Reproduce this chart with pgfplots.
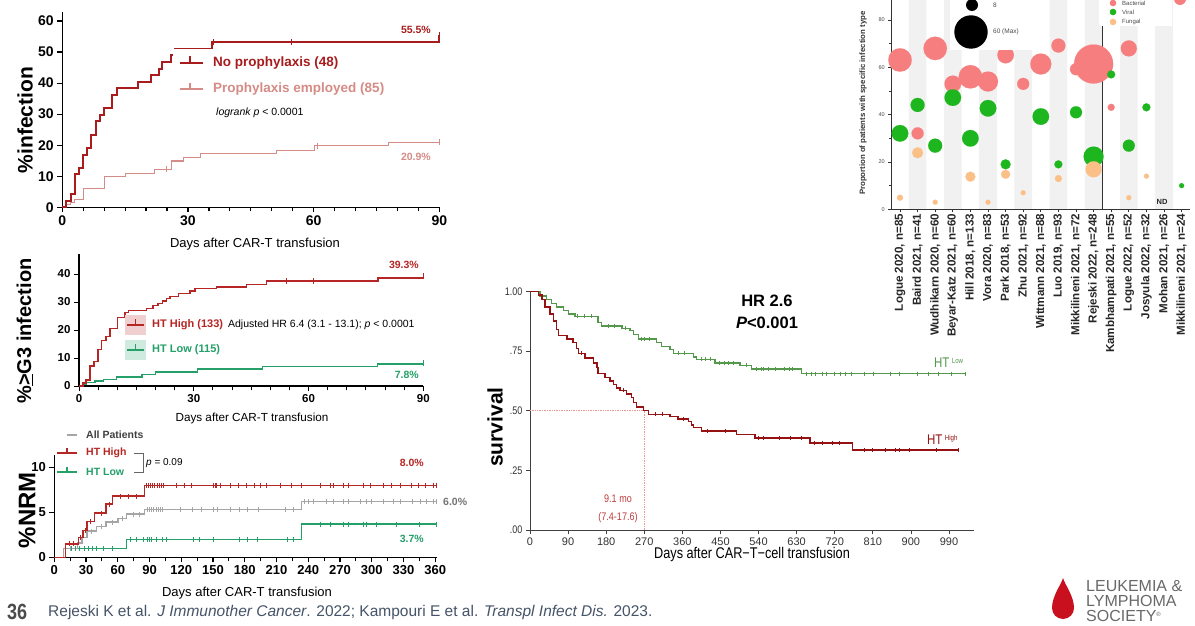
\documentclass[border=0pt]{standalone}
\usepackage{pgfplots}
\pgfplotsset{compat=1.18}
\usepackage{pgfplotstable}
\usepackage{fontspec}
\setmainfont{Liberation Sans}
\newfontfamily\condensed[FakeStretch=0.82]{Liberation Sans}
\definecolor{npred}{RGB}{168,28,30}
\definecolor{prpink}{RGB}{214,140,134}
\definecolor{hthigh}{RGB}{182,38,36}
\definecolor{htlow}{RGB}{36,160,104}
\definecolor{allgray}{RGB}{165,165,165}
\definecolor{svred}{RGB}{150,18,18}
\definecolor{svgreen}{RGB}{84,152,76}
\definecolor{medred}{RGB}{236,150,150}
\definecolor{medtxt}{RGB}{190,60,60}
\definecolor{bact}{RGB}{247,126,126}
\definecolor{viral}{RGB}{30,182,30}
\definecolor{fung}{RGB}{251,192,136}
\definecolor{band}{RGB}{241,241,241}
\definecolor{footer}{RGB}{70,84,104}
\definecolor{llsred}{RGB}{200,16,30}
\definecolor{llsgray}{RGB}{105,105,105}
\newcommand{\fs}[1]{\fontsize{#1}{#1}\selectfont}

% ---------- Panel 1: %infection ----------
\pgfplotstableread{
t s c
0 0 0
0.9 2.1 0
2.0 4.3 0
3.0 10.6 0
4.0 12.8 0
4.9 17.0 0
5.9 19.1 0
6.9 23.4 0
8.0 27.7 0
9.0 29.8 0
10.0 31.9 0
11.9 36.2 0
13.0 38.3 0
18.0 40.4 0
21.1 42.6 0
23.0 44.7 0
23.9 46.8 0
25.9 49.0 0
27.0 51.1 0
35.8 53.3 0
36.0 53.3 1
54.6 53.3 1
89.8 53.3 0
90 55.5 1
}\npdata
\pgfplotstableread{
t s c
0 0 0
1.0 0.8 0
2.0 1.5 0
3.0 2.4 0
5.0 6.1 0
10.0 9.9 0
15.0 11.0 0
22.0 12.2 0
24.9 12.2 1
26.0 14.9 0
28.9 16.1 0
32.9 17.2 0
51.2 18.3 0
60.3 19.8 0
61.0 19.8 1
77.8 20.8 0
89.8 20.8 0
90 20.9 1
}\prdata
% ---------- Panel 2: >=G3 infection ----------
\pgfplotstableread{
t s c
0 0 0
1.0 1.0 0
1.8 2.1 0
2.9 7.1 0
3.9 8.7 0
5.0 13.1 0
5.9 16.2 0
7.1 17.6 0
8.1 20.6 0
10.0 24.5 0
12.0 26.2 0
12.9 26.9 0
17.7 27.7 0
19.4 28.7 0
20.7 29.5 0
21.8 30.4 0
22.9 31.2 0
23.8 31.9 0
26.0 33.1 0
29.0 34.0 0
30.3 34.8 0
36.0 35.4 0
43.8 36.2 0
49.0 37.5 0
54.3 37.5 1
61.2 37.5 1
78.2 38.5 0
89.8 38.5 0
90 39.3 1
}\gthigh
\pgfplotstableread{
t s c
0 0 0
1.0 0.6 0
1.8 1.2 0
4.2 1.8 0
6.4 2.4 0
9.8 3.2 0
16.5 4.1 0
20.0 5.0 0
31.0 6.0 0
48.0 7.0 0
78.0 7.8 0
89.8 7.8 0
90 8.2 1
}\gtlow
% ---------- Panel 3: NRM ----------
\pgfplotstableread{
t s c
0 0 0
10.4 1.5 0
14 1.5 1
18 1.5 1
23 2.2 0
25 2.2 1
27 3.0 0
29 3.0 1
31 4.0 0
34 4.0 1
38 4.9 0
44 4.9 1
49 5.9 0
52 5.9 1
55 6.8 0
62 6.8 1
70 6.8 1
78 6.8 1
85 8.0 0
87 8.0 1
89 8.0 1
91 8.0 1
93 8.0 1
95 8.0 1
97 8.0 1
99 8.0 1
101 8.0 1
103 8.0 1
115.6 8.0 1
122.8 8.0 1
129.8 8.0 1
150.2 8.0 1
151.8 8.0 1
153.4 8.0 1
156.5 8.0 1
166 8.0 1
173.9 8.0 1
181.7 8.0 1
188.7 8.0 1
194.3 8.0 1
200.6 8.0 1
213.2 8.0 1
224.3 8.0 1
233.7 8.0 1
251 8.0 1
260.5 8.0 1
263.6 8.0 1
273 8.0 1
277.8 8.0 1
292 8.0 1
298.3 8.0 1
310.9 8.0 1
318.7 8.0 1
326.6 8.0 1
337.6 8.0 1
344 8.0 1
350.2 8.0 1
358.1 8.0 1
361 8.0 1
}\nrmhigh
\pgfplotstableread{
t s c
0 0 0
8.5 1.0 0
15 1.0 1
22 1.6 0
26 2.2 0
31 2.9 0
35 2.9 1
40 3.4 0
44 3.4 1
49 3.9 0
55 3.9 1
60 4.3 0
64 4.3 1
68 4.8 0
75 4.8 1
80 4.8 1
85 5.3 0
88 5.3 1
90 5.3 1
92 5.3 1
94 5.3 1
96 5.3 1
98 5.3 1
100 5.3 1
102 5.3 1
119 5.3 1
130 5.3 1
139 5.3 1
150 5.3 1
154 5.3 1
166 5.3 1
175 5.3 1
182 5.3 1
193 5.3 1
218 5.3 1
226 5.3 1
233.7 6.2 0
236 6.2 1
240 6.2 1
245 6.2 1
257 6.2 1
264 6.2 1
273 6.2 1
277.8 6.2 1
289 6.2 1
295 6.2 1
300 6.2 1
311 6.2 1
320 6.2 1
327 6.2 1
338 6.2 1
346 6.2 1
352 6.2 1
358 6.2 1
361 6.2 1
}\nrmall
\pgfplotstableread{
t s c
0 0 0
8.5 1.0 0
16 1.0 1
20 1.0 1
24 1.0 1
28 1.0 1
32 1.0 1
36 1.0 1
40 1.0 1
46 1.0 1
55 1.0 1
68.3 2.0 0
72 2.0 1
78 2.0 1
84 2.0 1
88 2.0 1
90 2.0 1
92 2.0 1
96 2.0 1
102 2.0 1
106 2.0 1
131 2.0 1
137 2.0 1
150 2.0 1
175 2.0 1
182 2.0 1
192 2.0 1
220 2.0 1
226 2.0 1
233.7 3.7 0
251 3.7 1
260.5 3.7 1
273 3.7 1
277.8 3.7 1
292 3.7 1
295 3.7 1
304 3.7 1
323 3.7 1
345 3.7 1
361 3.7 1
}\nrmlow
% ---------- Panel 4: survival ----------
\pgfplotstableread{
t s c
0 1.000 0
23.6 0.980 0
39.4 0.965 0
51 0.950 0
63 0.935 0
79 0.920 0
91 0.905 0
106 0.895 0
112 0.895 1
128 0.895 1
145 0.895 1
161 0.870 0
169 0.855 0
185 0.855 1
200 0.855 1
217 0.845 0
225 0.845 1
236 0.835 0
244 0.820 0
256 0.800 0
262 0.800 1
270 0.800 1
282 0.800 1
299 0.785 0
311 0.770 0
331 0.755 0
339 0.740 0
350 0.740 1
365 0.740 1
386 0.725 0
394 0.715 0
405 0.715 1
415 0.715 1
425 0.715 1
437 0.700 0
447 0.700 1
458 0.700 1
468 0.700 1
480 0.700 1
496 0.690 0
510 0.690 1
524 0.675 0
535 0.675 1
546 0.675 1
552 0.675 1
562 0.675 1
580 0.675 1
600 0.675 1
612 0.675 1
620 0.675 1
642 0.655 0
652 0.655 1
665 0.655 1
675 0.655 1
690 0.655 1
700 0.655 1
720 0.655 1
733 0.655 1
745 0.655 1
760 0.655 1
790 0.655 1
810 0.655 1
852 0.655 1
873 0.655 1
915 0.655 1
940 0.655 1
965 0.655 1
995 0.655 1
1028 0.655 1
}\svlow
\pgfplotstableread{
t s c
0 1.000 0
20 0.985 0
28 0.965 0
35 0.935 0
47 0.905 0
55 0.875 0
63 0.840 0
67 0.815 0
87 0.800 0
102 0.785 0
110 0.760 0
114 0.740 0
122 0.740 1
130 0.720 0
150 0.700 0
158 0.680 0
161 0.655 0
177 0.640 0
189 0.625 0
197 0.610 0
205 0.595 0
213 0.585 0
220 0.585 1
228 0.570 0
240 0.555 0
244 0.535 0
252 0.515 0
268 0.500 0
280 0.485 0
295 0.485 1
312 0.485 1
331 0.475 0
350 0.465 0
362 0.465 1
374 0.455 0
382 0.440 0
386 0.430 0
405 0.415 0
420 0.415 1
462 0.415 1
488 0.400 0
532 0.385 0
540 0.385 1
552 0.385 1
590 0.385 1
615 0.385 1
640 0.385 1
662 0.365 0
672 0.365 1
690 0.365 1
715 0.365 1
730 0.365 1
762 0.335 0
790 0.335 1
808 0.335 1
840 0.335 1
862 0.335 1
872 0.335 1
895 0.335 1
960 0.335 1
1012 0.335 1
}\svhigh
% ---------- Panel 5: bubbles ----------
\pgfplotstableread{
x y r
0 63.1 11.7
1 32.1 6
2 68 11.7
3 53 8.3
4 56 11.7
5 54 10
6 65.2 8.3
7 53 6
8 61.4 10.5
9 69.2 7
10 59.2 6
11 61.4 19.5
12 43.1 3.5
13 68 8
}\bactdata
\pgfplotstableread{
x y r
0 32.1 8.3
1 44.1 7
2 26.9 7
3 47.2 8.3
4 30 8.3
5 42.7 8.3
6 19 5
8 39.2 8.3
9 19 4
10 41 6
11 22.3 10
12 57 4
13 26.9 6
14 43.1 4
16 10 2.5
}\virdata
\pgfplotstableread{
x y r
0 4.9 3
1 23.9 5.5
2 3 2.5
4 13.8 5
5 3 2.5
6 14.8 4.5
7 7 2.5
9 13 3.5
11 16.9 8
13 4.9 2.5
14 14 2.5
}\fundata

\pgfplotsset{
  km/.style={scale only axis, anchor=south west, axis lines=left,
    axis line style={-, line width=1.3pt}, tick align=outside,
    tick style={black, line width=1.2pt}, major tick length=5pt, minor tick length=4pt,
    /pgf/number format/assume math mode=true, clip=false},
  kmline/.style={const plot, line width=#1, mark=none},
  cens/.style={only marks, mark=|, mark size=3pt, mark options={line width=0.9pt},
    restrict expr to domain={\thisrow{c}}{1:1}},
  bubble/.style={scatter, only marks, mark=*,
    scatter/use mapped color={draw=#1, fill=#1},
    mark options={line width=0.1pt},
    visualization depends on={\thisrow{r}\as\rr},
    scatter/@pre marker code/.append style={/tikz/mark size=\rr pt}},
}

\begin{document}
\begin{tikzpicture}
\path[use as bounding box] (0,0) rectangle (1195pt,625pt);
\clip (0,0) rectangle (1195pt,625pt);
\fill[white] (0,0) rectangle (1195pt,625pt);

% ===== Panel 1 =====
\begin{axis}[km, at={(62.3pt,417.7pt)}, width=377pt, height=195.6pt,
  xmin=0, xmax=90, ymin=0, ymax=63, xtick={0,30,60,90}, minor x tick num=5,
  ytick={0,10,...,60}, tick label style={font=\bfseries\fs{14}}]
\addplot[kmline=1.2pt, prpink] table[x=t,y=s]{\prdata};
\addplot[cens, prpink] table[x=t,y=s]{\prdata};
\addplot[kmline=2pt, npred] table[x=t,y=s]{\npdata};
\addplot[cens, npred] table[x=t,y=s]{\npdata};
\end{axis}
\node[rotate=90, font=\bfseries\fs{21}] at (25pt,505pt) {\%infection};
\node[font=\fs{13}] at (255pt,381pt) {Days after CAR-T transfusion};
\fill[white] (173pt,500pt) rectangle (392pt,576pt);
\draw[npred, line width=2pt] (180pt,562pt) -- (203pt,562pt) (190pt,562pt) -- (190pt,569pt);
\draw[prpink, line width=1.2pt] (180pt,536pt) -- (203pt,536pt) (190pt,536pt) -- (190pt,542pt);
\node[anchor=west, inner sep=0, text=npred, font=\bfseries\fs{13.5}] at (213pt,562pt) {No prophylaxis (48)};
\node[anchor=west, inner sep=0, text=prpink, font=\bfseries\fs{13.5}] at (213pt,536pt) {Prophylaxis employed (85)};
\node[anchor=west, inner sep=0, font=\fs{10.5}] at (216pt,512pt) {\textit{logrank p} < 0.0001};
\node[anchor=east, inner sep=0, text=npred, font=\bfseries\fs{10.5}] at (431pt,595pt) {55.5\%};
\node[anchor=east, inner sep=0, text=prpink, font=\bfseries\fs{10.5}] at (431pt,468pt) {20.9\%};

% ===== Panel 2 =====
\begin{axis}[km, at={(79pt,239pt)}, width=344.3pt, height=131.6pt,
  xmin=0, xmax=90, ymin=0, ymax=47, xtick={0,30,60,90}, minor x tick num=5,
  ytick={0,10,...,40}, tick label style={font=\bfseries\fs{11.5}},
  axis line style={-, line width=1.1pt}, tick style={black, line width=1pt}]
\addplot[kmline=1.5pt, htlow] table[x=t,y=s]{\gtlow};
\addplot[cens, htlow] table[x=t,y=s]{\gtlow};
\addplot[kmline=1.5pt, hthigh] table[x=t,y=s]{\gthigh};
\addplot[cens, hthigh] table[x=t,y=s]{\gthigh};
\end{axis}
\node[rotate=90, font=\bfseries\fs{20}] at (25pt,294pt) {\%\underline{>}G3 infection};
\node[font=\fs{11.7}] at (252pt,207pt) {Days after CAR-T transfusion};
\fill[hthigh!22] (125pt,290pt) rectangle (146pt,310pt);
\fill[htlow!22] (125pt,265pt) rectangle (146pt,285pt);
\draw[hthigh, line width=1.5pt] (127pt,300pt) -- (144pt,300pt) (135.5pt,300pt) -- (135.5pt,306pt);
\draw[htlow, line width=1.5pt] (127pt,275pt) -- (144pt,275pt) (135.5pt,275pt) -- (135.5pt,281pt);
\node[anchor=west, inner sep=0] at (152pt,300pt) {{\bfseries\fs{11}\color{hthigh}HT High (133)}\hspace{5pt}{\fs{10.5}Adjusted HR 6.4 (3.1 - 13.1); \textit{p} < 0.0001}};
\node[anchor=west, inner sep=0, text=htlow, font=\bfseries\fs{11}] at (152pt,275pt) {HT Low (115)};
\node[anchor=east, inner sep=0, text=hthigh, font=\bfseries\fs{10.5}] at (419pt,360pt) {39.3\%};
\node[anchor=east, inner sep=0, text=htlow, font=\bfseries\fs{10.5}] at (419pt,250pt) {7.8\%};

% ===== Panel 3 =====
\begin{axis}[km, at={(54.3pt,67.7pt)}, width=383.1pt, height=102.6pt,
  xmin=0, xmax=362, ymin=0, ymax=11.4, xtick={0,30,...,360}, minor x tick num=1,
  ytick={0,5,10}, tick label style={font=\bfseries\fs{13}},
  axis line style={-, line width=1.2pt}, tick style={black, line width=1.1pt},
  cens/.append style={mark size=2.5pt, mark options={line width=0.7pt}}]
\addplot[kmline=1.5pt, htlow] table[x=t,y=s]{\nrmlow};
\addplot[cens, htlow] table[x=t,y=s]{\nrmlow};
\addplot[kmline=1.5pt, allgray] table[x=t,y=s]{\nrmall};
\addplot[cens, allgray] table[x=t,y=s]{\nrmall};
\addplot[kmline=1.5pt, hthigh] table[x=t,y=s]{\nrmhigh};
\addplot[cens, hthigh] table[x=t,y=s]{\nrmhigh};
\end{axis}
\node[rotate=90, font=\bfseries\fs{24}] at (27pt,115pt) {\%NRM};
\node[font=\fs{13}] at (247pt,32pt) {Days after CAR-T transfusion};
\draw[allgray, line width=1.3pt] (67pt,190pt) -- (77pt,190pt);
\draw[hthigh, line width=1.5pt] (57pt,172pt) -- (77pt,172pt) (67pt,172pt) -- (67pt,177pt);
\draw[htlow, line width=1.5pt] (57pt,153pt) -- (77pt,153pt) (67pt,153pt) -- (67pt,158pt);
\node[anchor=west, inner sep=0, text=black!75, font=\bfseries\fs{10.5}] at (86pt,190pt) {All Patients};
\node[anchor=west, inner sep=0, text=hthigh, font=\bfseries\fs{10.5}] at (86pt,172pt) {HT High};
\node[anchor=west, inner sep=0, text=htlow, font=\bfseries\fs{10.5}] at (86pt,153pt) {HT Low};
\draw[black!60, line width=0.8pt] (134pt,172pt) -- (143pt,172pt) -- (143pt,153pt) -- (134pt,153pt);
\node[anchor=west, inner sep=0, font=\fs{10}] at (146pt,162pt) {\textit{p} = 0.09};
\node[anchor=east, inner sep=0, text=hthigh, font=\bfseries\fs{10.5}] at (424pt,162pt) {8.0\%};
\node[anchor=west, inner sep=0, text=black!55, font=\bfseries\fs{10.5}] at (443pt,123pt) {6.0\%};
\node[anchor=east, inner sep=0, text=htlow, font=\bfseries\fs{10.5}] at (424pt,86pt) {3.7\%};

% ===== Panel 4 =====
\begin{axis}[scale only axis, anchor=south west, at={(530pt,95pt)}, width=444.4pt, height=238.7pt,
  xmin=0, xmax=1050, ymin=0, ymax=1, axis lines=left,
  axis line style={-, line width=0.8pt, black!75}, tick align=outside,
  major tick length=4pt, tick style={black!75, line width=0.8pt},
  xtick={0,90,...,990}, ytick={0,0.25,0.5,0.75,1}, yticklabels={.00,.25,.50,.75,1.00},
  /pgf/number format/assume math mode=true,
  xticklabel style={font=\fs{11}, text=black!80},
  yticklabel style={font=\condensed\fs{11}, text=black!80}, clip=false,
  cens/.append style={mark size=2pt, mark options={line width=0.6pt}}]
\addplot[densely dotted, medred, line width=0.7pt] coordinates {(0,0.5) (270,0.5)};
\addplot[densely dotted, medred, line width=0.7pt] coordinates {(270,0) (270,0.5)};
\addplot[kmline=1.4pt, svgreen] table[x=t,y=s]{\svlow};
\addplot[cens, svgreen] table[x=t,y=s]{\svlow};
\addplot[kmline=1.4pt, svred] table[x=t,y=s]{\svhigh};
\addplot[cens, svred] table[x=t,y=s]{\svhigh};
\end{axis}
\node[rotate=90, font=\bfseries\fs{21}] at (495pt,198pt) {survival};
\node[font=\condensed\fs{15.5}] at (752pt,71pt) {Days after CAR−T−cell transfusion};
\node[font=\bfseries\fs{16.5}] at (767pt,324pt) {HR 2.6};
\node[font=\bfseries\fs{16.5}] at (767pt,302pt) {\textit{P}<0.001};
\node[anchor=west, inner sep=0, text=svgreen] at (934pt,262pt) {\condensed\fs{14}HT\,\raisebox{4.5pt}{\fs{7.5}Low}};
\node[anchor=west, inner sep=0, text=svred] at (927pt,185pt) {\condensed\fs{14}HT\,\raisebox{4.5pt}{\fs{7.5}High}};
\node[text=medtxt, font=\condensed\fs{11}] at (618pt,126pt) {9.1 mo};
\node[text=medtxt, font=\condensed\fs{11}] at (618pt,107pt) {(7.4-17.6)};

% ===== Panel 5 =====
\begin{axis}[scale only axis, anchor=south west, at={(891.2pt,415.7pt)}, width=299.2pt, height=224.8pt,
  xmin=-0.5, xmax=16.5, ymin=0, ymax=95, axis lines=left,
  axis line style={-, line width=0.9pt, black!80}, axis on top,
  tick align=outside, major tick length=3pt, minor tick length=2pt,
  tick style={black!80, line width=0.7pt},
  xtick={0,...,16},
  xticklabels={{Logue 2020, n=85},{Baird 2021, n=41},{Wudhikarn 2020, n=60},{Beyar-Katz 2021, n=60},{Hill 2018, n=133},{Vora 2020, n=83},{Park 2018, n=53},{Zhu 2021, n=92},{Wittmann 2021, n=88},{Luo 2019, n=93},{Mikkilineni 2021, n=72},{Rejeski 2022, n=248},{Kambhampati 2021, n=55},{Logue 2022, n=52},{Josyula 2022, n=32},{Mohan 2021, n=26},{Mikkilineni 2021, n=24}},
  xticklabel style={rotate=90, anchor=east, font=\bfseries\fs{11.6}, text=black!85, inner sep=1.5pt},
  ytick={0,20,...,80}, minor y tick num=1,
  yticklabel style={font=\fs{5.5}, text=black!70},
  /pgf/number format/assume math mode=true]
\addplot[ybar, bar width=1, fill=band, draw=none] coordinates {(1,100) (3,100) (5,100) (7,100) (9,100) (11,100) (13,100) (15,100)};
\addplot[black!80, line width=1pt] coordinates {(11.5,0) (11.5,100)};
\addplot[bubble=bact] table[x=x,y=y]{\bactdata};
\addplot[bubble=viral] table[x=x,y=y]{\virdata};
\addplot[bubble=fung] table[x=x,y=y]{\fundata};
\end{axis}
\node[rotate=90, anchor=west, inner sep=0, font=\bfseries\fs{7.8}, text=black!80] at (863pt,430pt) {Proportion of patients with specific infection type};
\node[font=\bfseries\fs{7.5}, text=black!85] at (1162pt,423pt) {ND};
\fill[white] (950pt,575pt) rectangle (1037pt,630pt);
\fill[black] (972pt,620pt) circle (6pt);
\fill[black] (971pt,593pt) circle (16.7pt);
\node[anchor=west, inner sep=0, font=\fs{6.5}, text=black!70] at (993pt,620pt) {8};
\node[anchor=west, inner sep=0, font=\fs{6.5}, text=black!70] at (993pt,593pt) {60 (Max)};
\fill[white] (1099pt,599pt) rectangle (1172pt,630pt);
\fill[bact] (1113pt,622pt) circle (3.3pt);
\fill[viral] (1113pt,613pt) circle (3.3pt);
\fill[fung] (1113pt,603pt) circle (3.3pt);
\node[anchor=west, inner sep=0, font=\fs{6}, text=black!70] at (1122pt,622pt) {Bacterial};
\node[anchor=west, inner sep=0, font=\fs{6}, text=black!70] at (1122pt,613pt) {Viral};
\node[anchor=west, inner sep=0, font=\fs{6}, text=black!70] at (1122pt,603pt) {Fungal};
\fill[bact] (1180pt,626pt) circle (6pt);

% ===== Footer =====
\node[anchor=west, inner sep=0, text=black!70, font=\condensed\bfseries\fs{22}] at (7pt,13pt) {36};
\node[anchor=west, inner sep=0, text=footer, font=\fs{15.5}] at (48pt,13pt) {Rejeski K et al. \textit{J Immunother Cancer}. 2022; Kampouri E et al. \textit{Transpl Infect Dis.} 2023.};
% LLS logo
\fill[llsred] (1063pt,47pt) .. controls (1061pt,40pt) and (1052pt,29pt) .. (1052pt,17pt)
  arc[start angle=180, end angle=360, radius=11pt] .. controls (1074pt,29pt) and (1065pt,40pt) .. (1063pt,47pt);
\node[anchor=base west, inner sep=0, text=llsgray, font=\fs{16}] at (1086pt,34pt) {LEUKEMIA \&};
\node[anchor=base west, inner sep=0, text=llsgray, font=\fs{16}] at (1086pt,19pt) {LYMPHOMA};
\node[anchor=base west, inner sep=0, text=llsgray, font=\fs{16}] at (1086pt,4pt) {SOCIETY\raisebox{5pt}{\fs{6}®}};
\end{tikzpicture}
\end{document}
